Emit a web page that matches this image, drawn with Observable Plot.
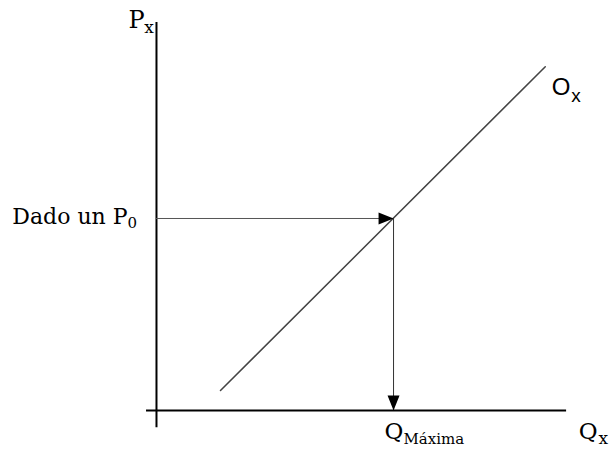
<!DOCTYPE html>
<html><head><meta charset="utf-8">
<script src="https://cdn.jsdelivr.net/npm/d3@7"></script>
<script src="https://cdn.jsdelivr.net/npm/@observablehq/plot@0.6"></script>
<style>body{margin:0;background:#fff}</style>
</head><body><div id="chart"></div>
<script>
// Model values (abstract units)
const qMax = 10;                 // Q Máxima
const p0 = 10;                   // Dado un P0
const supplyQ = [2.7, 16.4];     // supply curve Ox, quantity
const supplyP = [1.04, 17.9];    // supply curve Ox, price
const axisQ = [-0.42, 17.3];     // extent of the Qx axis
const axisP = [-0.89, 20.2];     // extent of the Px axis

// Serif labels (main text + subscripts)
const serifText = ["P", "x", "Dado un P", "0", "Q", "Máxima", "Q", "x"];
const serifQ    = [-1.18, -0.52, -6.08, -1.22, 9.62, 10.42, 17.81, 18.65];
const serifP    = [19.90, 19.64, 9.69, 9.48, -1.46, -1.72, -1.46, -1.72];
const serifSize = [24, 17, 22, 15, 23, 15, 23, 17];

// Sans labels for the supply curve
const sansText = ["O", "x"];
const sansQ    = [16.67, 17.50];
const sansP    = [16.41, 16.05];
const sansSize = [24, 19];

const supply = supplyQ.map((q, i) => ({q, p: supplyP[i]}));
const serif = serifText.map((t, i) => ({t, q: serifQ[i], p: serifP[i], s: serifSize[i]}));
const sans = sansText.map((t, i) => ({t, q: sansQ[i], p: sansP[i], s: sansSize[i]}));

const triangle = {
  draw(context, l, r) {
    context.moveTo(-r, 0);
    context.lineTo(0, -l);
    context.lineTo(r, 0);
    context.closePath();
  }
};

const chart = Plot.plot({
  width: 609,
  height: 450,
  margin: 0,
  x: {domain: [-6.58, 19.11], axis: null},
  y: {domain: [-2.08, 21.35], axis: null},
  marks: [
    Plot.line(supply, {x: "q", y: "p", stroke: "#444", strokeWidth: 1.5}),
    Plot.ruleY([{p: 0, a: axisQ[0], b: axisQ[1]}], {y: "p", x1: "a", x2: "b", stroke: "#000", strokeWidth: 2}),
    Plot.ruleX([{q: 0, a: axisP[0], b: axisP[1]}], {x: "q", y1: "a", y2: "b", stroke: "#000", strokeWidth: 2}),
    Plot.ruleY([{p: p0, a: 0, b: qMax}], {y: "p", x1: "a", x2: "b", stroke: "#555", strokeWidth: 1}),
    Plot.ruleX([{q: qMax, a: 0, b: p0}], {x: "q", y1: "a", y2: "b", stroke: "#333", strokeWidth: 1}),
    Plot.vector([{q: qMax, p: p0}], {x: "q", y: "p", rotate: 90, length: 15, r: 6, anchor: "end", shape: triangle, fill: "#000", stroke: "none"}),
    Plot.vector([{q: qMax, p: 0}], {x: "q", y: "p", rotate: 180, length: 15, r: 6, anchor: "end", shape: triangle, fill: "#000", stroke: "none"}),
    Plot.text(serif, {x: "q", y: "p", text: "t", fontSize: "s", textAnchor: "start", lineAnchor: "bottom", fontFamily: "DejaVu Serif", fill: "#000"}),
    Plot.text(sans, {x: "q", y: "p", text: "t", fontSize: "s", textAnchor: "start", lineAnchor: "bottom", fontFamily: "Liberation Sans Narrow, Liberation Sans, sans-serif", fill: "#000"})
  ]
});
document.getElementById("chart").appendChild(chart);
</script>
</body></html>
